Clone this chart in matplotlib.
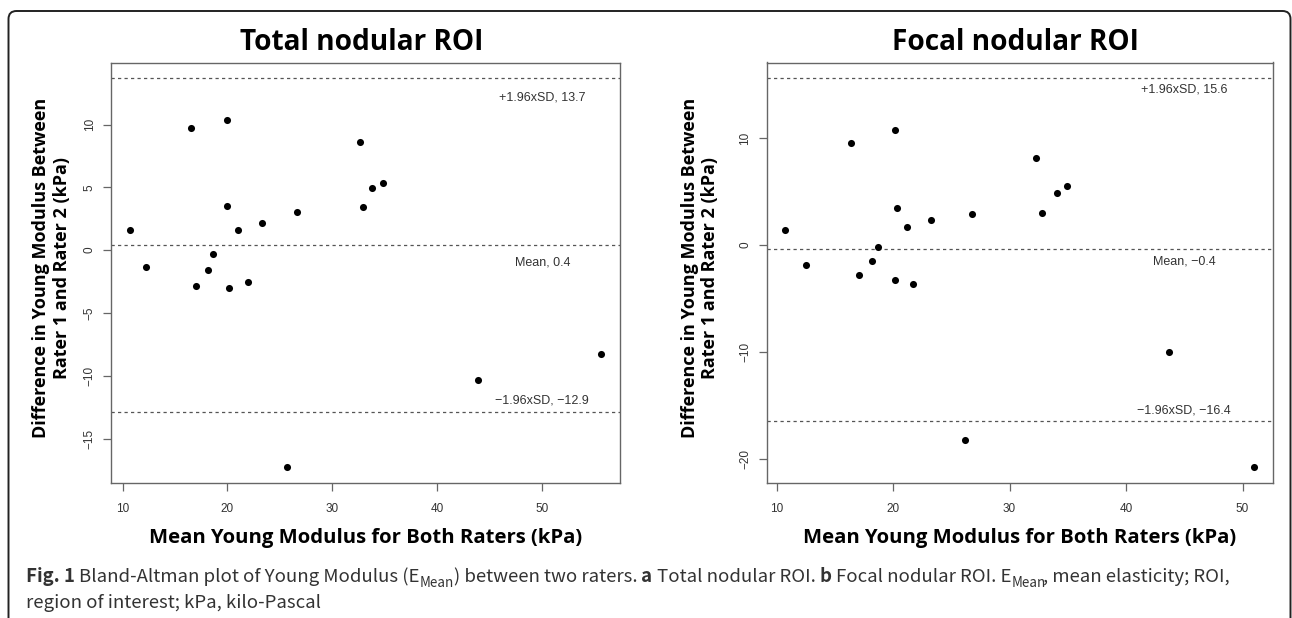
import matplotlib
matplotlib.use("Agg")
import matplotlib.pyplot as plt
from matplotlib.patches import FancyBboxPatch

############## Data ##############

# a: total nodular ROI
total_mean = [10.7, 12.2, 16.5, 20.0, 20.0, 21.0, 23.3, 26.6, 32.6, 32.9,
              33.8, 34.8, 18.6, 18.1, 17.0, 20.1, 22.0, 25.7, 43.9, 55.6]
total_diff = [1.6, -1.35, 9.75, 10.37, 3.52, 1.64, 2.17, 3.02, 8.64, 3.42,
              4.93, 5.35, -0.29, -1.57, -2.82, -3.05, -2.52, -17.26, -10.32, -8.3]
total_limits = [13.7, 0.4, -12.9]          # +1.96xSD, mean, -1.96xSD
total_yticks = [-15, -10, -5, 0, 5, 10]

# b: focal nodular ROI
focal_mean = [10.75, 12.5, 16.35, 20.2, 20.3, 21.2, 23.3, 26.8, 32.3, 32.8,
              34.1, 34.9, 18.7, 18.2, 17.1, 20.2, 21.7, 26.15, 43.7, 51.0]
focal_diff = [1.37, -1.83, 9.55, 10.79, 3.49, 1.68, 2.3, 2.86, 8.09, 2.99,
              4.85, 5.54, -0.19, -1.46, -2.8, -3.26, -3.64, -18.19, -10.04, -20.74]
focal_limits = [15.6, -0.4, -16.4]
focal_yticks = [-20, -10, 0, 10]

xticks = [10, 20, 30, 40, 50]
titles = ["Total nodular ROI", "Focal nodular ROI"]
xlabel = "Mean Young Modulus for Both Raters (kPa)"
ylabel = "Difference in Young Modulus Between\nRater 1 and Rater 2 (kPa)"

############## Figure setup ##############

W, H = 1292, 618
fig = plt.figure(figsize=(W / 100, H / 100), dpi=100)
fig.patch.set_facecolor("white")

HEAD = "Open Sans"
TICK = "Liberation Sans"
CAP = "Noto Sans CJK KR"


def fmt(v):
    return ("%.1f" % v).replace("-", "\u2212")


def r_range(values):
    # R style: 4% padding on each side
    lo, hi = min(values), max(values)
    d = (hi - lo) * 0.04
    return lo - d, hi + d


def add_panel(box, mean, diff, limits, yticks, title, lab_x, lab_dy, ylab_x):
    l, t, r, b = box
    ax = fig.add_axes([l / W, 1 - b / H, (r - l) / W, (b - t) / H])
    ax.scatter(mean, diff, s=26, color="black", linewidths=0, zorder=3)
    for v in limits:
        ax.axhline(v, color="#555555", lw=0.9, ls=(0, (2.6, 2.6)), zorder=2)
    ax.set_xlim(r_range(mean))
    ax.set_ylim(r_range(diff + limits))
    ax.set_xticks(xticks)
    ax.set_yticks(yticks)
    for s in ax.spines.values():
        s.set_color("#666666")
        s.set_linewidth(1.0)
    ax.tick_params(length=5.5, width=0.9, color="#666666", labelsize=8.5,
                   labelcolor="#333333")
    ax.tick_params(axis="x", pad=9)
    ax.tick_params(axis="y", pad=5.5)
    for lab in ax.get_xticklabels() + ax.get_yticklabels():
        lab.set_family(TICK)
    for lab in ax.get_yticklabels():
        lab.set_rotation(90)
        lab.set_va("center")

    names = ["+1.96xSD, ", "Mean, ", "\u22121.96xSD, "]
    for name, v, dy in zip(names, limits, lab_dy):
        ax.annotate(name + fmt(v), xy=(lab_x, v), xytext=(0, dy),
                    textcoords="offset points", ha="center", va="center",
                    family=TICK, fontsize=9, color="#333333")

    cx = (l + r) / 2
    fig.text((cx - 4) / W, 1 - 50 / H, title, ha="center", va="baseline",
             family=HEAD, weight="bold", fontsize=20.2)
    fig.text(cx / W, 1 - 543 / H, xlabel, ha="center", va="baseline",
             family=HEAD, weight="bold", fontsize=14.6)
    fig.text(ylab_x / W, 1 - 268 / H, ylabel, ha="center", va="center",
             rotation=90, multialignment="center", family=HEAD,
             weight="bold", fontsize=13, linespacing=1.2)
    return ax


add_panel((111, 62.5, 620, 482.5), total_mean, total_diff, total_limits,
          total_yticks, titles[0], 50, [-14, -12.5, 8.5], 51.5)
add_panel((766.5, 62.5, 1273, 482.5), focal_mean, focal_diff, focal_limits,
          focal_yticks, titles[1], 45, [-8, -8.5, 7.5], 700)

############## Caption ##############

cap = fig.add_axes([0, 0, 1, 1])
cap.axis("off")
cap.set_zorder(-1)
CS = 13.4
SP = CS * 0.22

line1 = [("Fig. 1", "bold", 0),
         ("Bland-Altman plot of Young Modulus (E", "normal", SP),
         ("Mean", "sub", 0),
         (") between two raters.", "normal", 0),
         ("a", "bold", SP),
         ("Total nodular ROI.", "normal", SP),
         ("b", "bold", SP),
         ("Focal nodular ROI. E", "normal", SP),
         ("Mean", "sub", 0),
         (", mean elasticity; ROI,", "normal", -2)]


def caption_line(pieces, x0, base):
    prev = None
    for txt, kind, gap in pieces:
        size = CS * 0.72 if kind == "sub" else CS
        dy = -3.4 if kind == "sub" else 0
        weight = "bold" if kind == "bold" else "normal"
        if prev is None:
            prev = cap.annotate(txt, xy=(x0, base), xycoords="figure pixels",
                                va="baseline", ha="left", family=CAP,
                                weight=weight, fontsize=size, color="#333333")
        else:
            prev = cap.annotate(txt, xy=(1, base), xycoords=(prev, "figure pixels"),
                                xytext=(gap, dy), textcoords="offset points",
                                va="baseline", ha="left", family=CAP,
                                weight=weight, fontsize=size, color="#333333")


caption_line(line1, 26, H - 582)
caption_line([("region of interest; kPa, kilo-Pascal", "normal", 0)], 26, H - 608)

############## Rounded frame ##############

frame = FancyBboxPatch((8.5, -30), 1282, H - 11 + 30,
                       boxstyle="round,pad=0,rounding_size=8",
                       transform=None, fill=False, edgecolor="#222222", lw=1.4)
fig.patches.append(frame)

fig.savefig("out.png", dpi=100)
